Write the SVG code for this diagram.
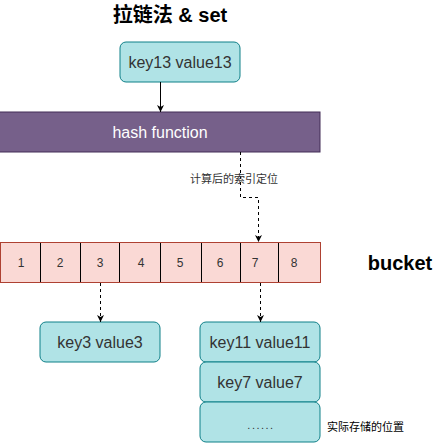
<svg xmlns="http://www.w3.org/2000/svg" width="441" height="443" viewBox="0 0 441 443">
<defs>
<marker id="arr" viewBox="0 0 10 10" refX="10" refY="5" markerWidth="7" markerHeight="7" markerUnits="userSpaceOnUse" orient="auto">
<path d="M0,0 L10,5 L0,10 L3,5 Z" fill="#000"/>
</marker>
</defs>
<style>
text{font-family:"Liberation Sans","Noto Sans CJK SC",sans-serif;}
.kv{fill:#b0e3e6;stroke:#0e8088;stroke-width:1;}
.kvt{font-size:16px;fill:#333333;text-anchor:middle;}
.cell{fill:#fad9d5;stroke:none;}
.num{font-size:12px;fill:#333333;text-anchor:middle;}
.div{stroke:#000;stroke-width:1;}
.conn{fill:none;stroke:#000;stroke-width:1;}
.dash{stroke-dasharray:3 3;}
.cjk{font-family:"Noto Sans CJK SC","Liberation Sans",sans-serif;}
</style>
<rect width="441" height="443" fill="#fff"/>
<g id="title">
<text x="170" y="22" font-size="20" font-weight="bold" text-anchor="middle" fill="#000">拉链法 &amp; set</text>
</g>
<g id="key13">
<rect class="kv" x="120" y="42" width="120" height="40" rx="6"/>
<text class="kvt" x="180" y="68">key13 value13</text>
</g>
<g id="hash">
<rect x="-1" y="112" width="321" height="40" fill="#76608a" stroke="#432d57"/>
<text x="160" y="138" font-size="16" fill="#fff" text-anchor="middle">hash function</text>
</g>
<g id="bucket">
<rect class="cell" x="0.5" y="242.5" width="320" height="40"/>
<line class="div" x1="40.5" y1="242.5" x2="40.5" y2="282.5"/>
<line class="div" x1="80.5" y1="242.5" x2="80.5" y2="282.5"/>
<line class="div" x1="119.5" y1="242.5" x2="119.5" y2="282.5"/>
<line class="div" x1="160.5" y1="242.5" x2="160.5" y2="282.5"/>
<line class="div" x1="201.5" y1="242.5" x2="201.5" y2="282.5"/>
<line class="div" x1="240.5" y1="242.5" x2="240.5" y2="282.5"/>
<line class="div" x1="278.5" y1="242.5" x2="278.5" y2="282.5"/>
<rect x="0.5" y="242.5" width="320" height="40" fill="none" stroke="#ae4132"/>
<text class="num" x="21" y="266.5">1</text>
<text class="num" x="60" y="266.5">2</text>
<text class="num" x="100" y="266.5">3</text>
<text class="num" x="141" y="266.5">4</text>
<text class="num" x="180" y="266.5">5</text>
<text class="num" x="220" y="266.5">6</text>
<text class="num" x="255" y="266.5">7</text>
<text class="num" x="294" y="266.5">8</text>
</g>
<g id="bucket-label">
<text x="400" y="270" font-size="20" font-weight="bold" text-anchor="middle" fill="#000">bucket</text>
</g>
<g id="key3">
<rect class="kv" x="40" y="322" width="120" height="40" rx="6"/>
<text class="kvt" x="100" y="348">key3 value3</text>
</g>
<g id="key11">
<rect class="kv" x="200" y="322" width="120" height="40" rx="6"/>
<text class="kvt" x="260" y="348">key11 value11</text>
</g>
<g id="key7">
<rect class="kv" x="200" y="362" width="120" height="40" rx="6"/>
<text class="kvt" x="260" y="388">key7 value7</text>
</g>
<g id="more">
<rect class="kv" x="200" y="402" width="120" height="40" rx="6"/>
<text x="261" y="429" font-size="11" letter-spacing="1.5" fill="#333333" text-anchor="middle">......</text>
</g>
<g id="store-label">
<text x="327" y="431" class="cjk" font-size="11" fill="#000">实际存储的位置</text>
</g>
<g id="connectors">
<line class="conn" x1="160.5" y1="82" x2="160.5" y2="112" marker-end="url(#arr)"/>
<path class="conn dash" d="M240.5,152 V197.5 H258.5 V242" marker-end="url(#arr)"/>
<text x="234" y="183" class="cjk" font-size="11" fill="#333333" text-anchor="middle">计算后的索引定位</text>
<line class="conn dash" x1="100.5" y1="283" x2="100.5" y2="322" marker-end="url(#arr)"/>
<line class="conn dash" x1="260.5" y1="283" x2="260.5" y2="322" marker-end="url(#arr)"/>
</g>
</svg>
